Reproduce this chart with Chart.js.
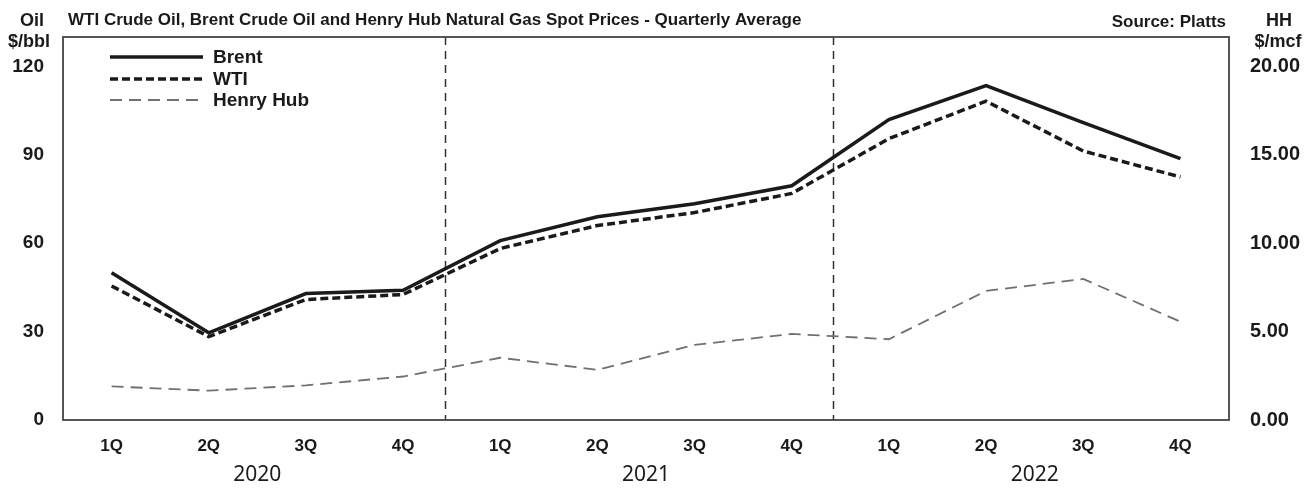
<!DOCTYPE html>
<html>
<head>
<meta charset="utf-8">
<script src="https://cdn.jsdelivr.net/npm/chart.js@4/dist/chart.umd.min.js"></script>
<style>
  body{margin:0;background:#fff;}
  #wrap{position:relative;width:1306px;height:491px;}
</style>
</head>
<body>
<div id="wrap"><canvas id="c"></canvas></div>
<script>
var quarters = ["1Q","2Q","3Q","4Q","1Q","2Q","3Q","4Q","1Q","2Q","3Q","4Q"];
var years = ["2020","2021","2022"];
var brent = [50.0,29.6,42.9,44.0,60.9,69.0,73.4,79.5,102.0,113.5,100.9,88.7];
var wti = [45.5,28.3,40.9,42.6,58.2,66.0,70.4,76.9,95.5,108.2,91.3,82.5];
var henryHub = [1.90,1.66,1.96,2.46,3.52,2.84,4.25,4.87,4.57,7.30,7.98,5.56];
var oilTicks = [0,30,60,90,120];
var hhTicks = [0,5,10,15,20];
var dividers = [3.43,7.42];

var FAM = "'Liberation Sans', Arial, sans-serif";

// box, divider lines, legend, titles, year row
var decor = {
  id:"decor",
  beforeDatasetsDraw:function(chart){
    var ctx = chart.ctx, a = chart.chartArea, x = chart.scales.x;
    ctx.save();
    ctx.strokeStyle = "#333"; ctx.lineWidth = 1.5; ctx.setLineDash([8,6]);
    dividers.forEach(function(d){
      var px = Math.round(x.getPixelForValue(d))+0.5;
      ctx.beginPath(); ctx.moveTo(px,a.top); ctx.lineTo(px,a.bottom); ctx.stroke();
    });
    ctx.restore();
  },
  afterDraw:function(chart){
    var ctx = chart.ctx, a = chart.chartArea, x = chart.scales.x;
    ctx.save();
    ctx.strokeStyle = "#444"; ctx.lineWidth = 1.8; ctx.setLineDash([]);
    ctx.strokeRect(a.left, a.top, a.right-a.left, a.bottom-a.top);

    // legend
    var ly = [57,79,100];
    chart.data.datasets.forEach(function(ds,i){
      ctx.strokeStyle = ds.borderColor; ctx.lineWidth = ds.borderWidth;
      ctx.setLineDash(ds.borderDash || []);
      ctx.beginPath(); ctx.moveTo(110,ly[i]); ctx.lineTo(203,ly[i]); ctx.stroke();
      ctx.fillStyle = "#1a1a1a"; ctx.font = "bold 19px " + FAM;
      ctx.textAlign = "left"; ctx.textBaseline = "middle";
      ctx.fillText(ds.label, 213, ly[i]+1);
    });

    // titles and axis headers
    ctx.fillStyle = "#1a1a1a"; ctx.font = "bold 17px " + FAM; ctx.textBaseline = "middle";
    ctx.textAlign = "left";
    ctx.fillText("WTI Crude Oil, Brent Crude Oil and Henry Hub Natural Gas Spot Prices - Quarterly Average", 68, 20);
    ctx.textAlign = "right";
    ctx.fillText("Source: Platts", 1226, 22);
    ctx.textAlign = "center"; ctx.font = "bold 18px " + FAM;
    ctx.fillText("Oil", 32, 21); ctx.fillText("$/bbl", 29, 42);
    ctx.fillText("HH", 1279, 21); ctx.fillText("$/mcf", 1278, 42);

    // year row
    ctx.font = "21px 'Noto Sans', 'Open Sans', sans-serif";
    years.forEach(function(y,i){
      ctx.fillText(y, x.getPixelForValue(i*4+1.5), 475);
    });
    ctx.restore();
  }
};

new Chart(document.getElementById("c"),{
  type:"line",
  data:{
    labels:quarters,
    datasets:[
      {label:"Brent", data:brent, yAxisID:"y", borderColor:"#1a1a1a", borderWidth:3.5, pointRadius:0, tension:0},
      {label:"WTI", data:wti, yAxisID:"y", borderColor:"#1a1a1a", borderWidth:3.5, borderDash:[8,4], pointRadius:0, tension:0},
      {label:"Henry Hub", data:henryHub, yAxisID:"y2", borderColor:"#707070", borderWidth:1.8, borderDash:[12,7], pointRadius:0, tension:0}
    ]
  },
  options:{
    responsive:true, maintainAspectRatio:false, animation:false,
    layout:{padding:{top:37,left:0,right:0,bottom:0}},
    plugins:{legend:{display:false}, tooltip:{enabled:false}},
    scales:{
      x:{
        offset:true,
        grid:{display:false}, border:{display:false},
        ticks:{color:"#1a1a1a", font:{family:FAM, size:17, weight:"bold"}, padding:8, maxRotation:0, autoSkip:false},
        afterFit:function(s){ s.height = 71; }
      },
      y:{
        position:"left", min:0, max:130,
        grid:{display:false}, border:{display:false},
        afterBuildTicks:function(s){ s.ticks = oilTicks.map(function(v){ return {value:v}; }); },
        ticks:{color:"#1a1a1a", font:{family:FAM, size:19, weight:"bold"}, padding:11},
        afterFit:function(s){ s.width = 63; }
      },
      y2:{
        position:"right", min:0, max:130/6,
        grid:{display:false}, border:{display:false},
        afterBuildTicks:function(s){ s.ticks = hhTicks.map(function(v){ return {value:v}; }); },
        ticks:{color:"#1a1a1a", font:{family:FAM, size:20, weight:"bold"}, padding:13,
          callback:function(v){ return Number(v).toFixed(2); }},
        afterFit:function(s){ s.width = 77; }
      }
    }
  },
  plugins:[decor]
});
</script>
</body>
</html>
